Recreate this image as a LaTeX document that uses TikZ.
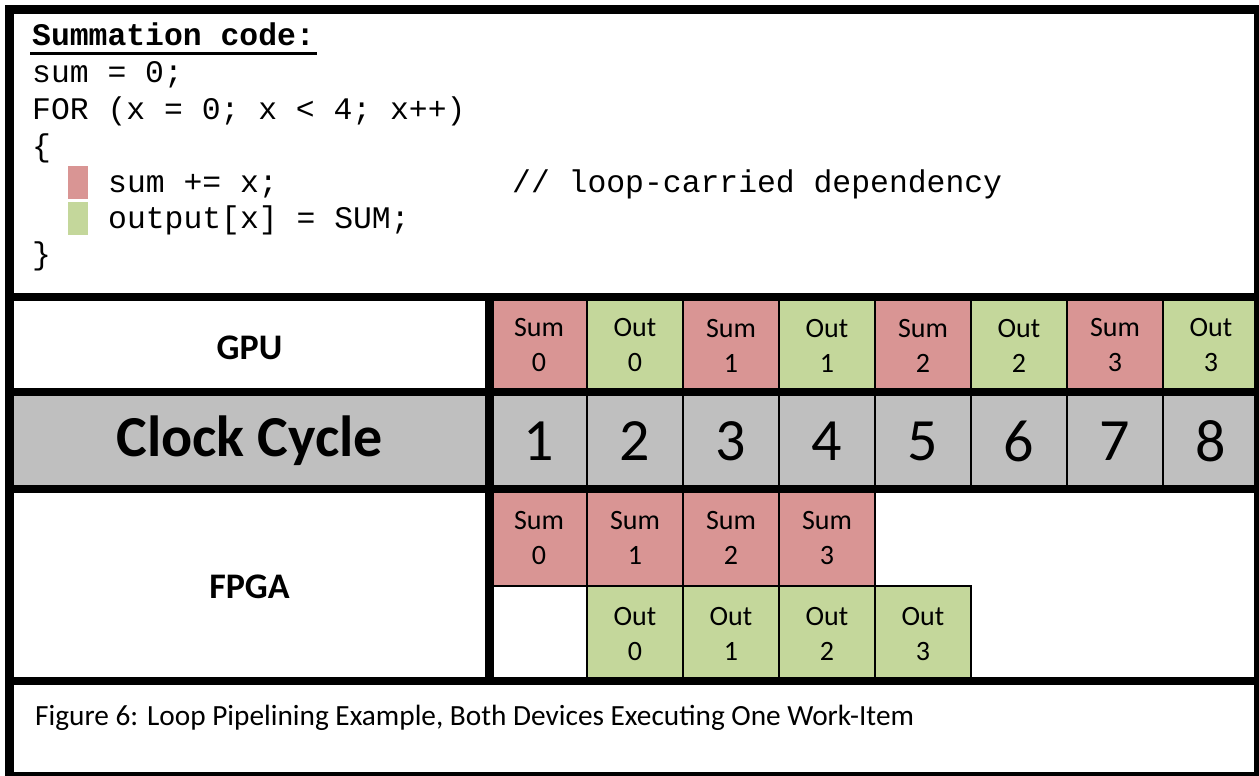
\documentclass[tikz,border=0pt]{standalone}
\usepackage{fontspec}
\setmainfont{Carlito}
\newfontfamily\codefont{Liberation Mono}
\usetikzlibrary{positioning}
\definecolor{sumred}{HTML}{D99594}
\definecolor{outgreen}{HTML}{C4D79B}
\definecolor{clockgray}{HTML}{BFBFBF}

\begin{document}
\begin{tikzpicture}[
      x=1pt, y=-1pt,
      cell/.style={
         draw,
         line width=2pt,
         minimum width=96pt,
         inner sep=0pt,
         align=center,
         anchor=north west,
         font=\fontsize{28}{35}\selectfont
      },
      sumcell/.style={cell, fill=sumred},
      outcell/.style={cell, fill=outgreen},
      clockcell/.style={cell, fill=clockgray, minimum height=97pt,
         font=\fontsize{60}{60}\selectfont},
      label/.style={font=\bfseries\fontsize{36}{40}\selectfont},
      code/.style={anchor=base west, inner sep=0pt,
         font=\codefont\fontsize{31.4}{36}\selectfont},
      heavy/.style={line width=8.5pt}
   ]
      \useasboundingbox (0,0) rectangle (1259,776);

      % summation code
      \node[code, font=\codefont\bfseries\fontsize{31.4}{36}\selectfont]
         (title) at (32,46) {Summation code:};
      \draw[line width=3pt] ([xshift=-2pt,yshift=-7.5pt]title.base west)
         -- ([xshift=2pt,yshift=-7.5pt]title.base east);
      \node[code] (init) at (32,83) {sum = 0;};
      \node[code] (loop) at (32,120) {FOR (x = 0; x < 4; x++)};
      \node[code] (open) at (32,156) {\{};
      \node[code] (sumline) at (108,192) {sum += x;};
      \node[code] (comment) at (512,192) {// loop-carried dependency};
      \node[code] (outline) at (108,228) {output[x] = SUM;};
      \node[code] (close) at (32,264) {\}};
      \node[fill=sumred, minimum width=20pt, minimum height=33pt,
         inner sep=0pt] (sumkey) at (78,182.5) {};
      \node[fill=outgreen, minimum width=20pt, minimum height=33pt,
         inner sep=0pt] (outkey) at (78,218.5) {};

      % GPU row
      \node[label] (gpu) at (249.5,348) {GPU};
      \foreach \i in {0,...,3} {
         \node[sumcell, minimum height=95pt] (gpusum\i)
            at ({490+192*\i},297) {Sum\\\i};
         \node[outcell, minimum height=95pt] (gpuout\i)
            at ({586+192*\i},297) {Out\\\i};
      }

      % clock cycles
      \node[fill=clockgray, minimum width=480pt, minimum height=97pt,
         anchor=north west, label] (clocklabel) at (9.5,392)
         {\fontsize{58}{60}\selectfont Clock Cycle};
      \foreach \n in {1,...,8} {
         \node[clockcell] (clk\n) at ({394+96*\n},392) {\n};
      }

      % FPGA rows
      \node[label] (fpga) at (249.5,587) {FPGA};
      \foreach \i in {0,...,3} {
         \node[sumcell, minimum height=96pt] (fpgasum\i)
            at ({490+96*\i},489) {Sum\\\i};
         \node[outcell, minimum height=96pt] (fpgaout\i)
            at ({586+96*\i},585) {Out\\\i};
      }

      % caption
      \node[anchor=base west, inner sep=0pt,
         font=\fontsize{29.3}{32}\selectfont] (caption) at (35,725)
         {Figure 6: Loop Pipelining Example, Both Devices Executing One Work-Item};

      % heavy rules
      \foreach \y in {297,392,489,681} {
         \draw[heavy] (9.5,\y) -- (1258.5,\y);
      }
      \draw[heavy] (489.5,297) -- (489.5,681);
      \draw[line width=9pt] (9.5,9.5) rectangle (1258.5,776.5);
   \end{tikzpicture}
\end{document}
